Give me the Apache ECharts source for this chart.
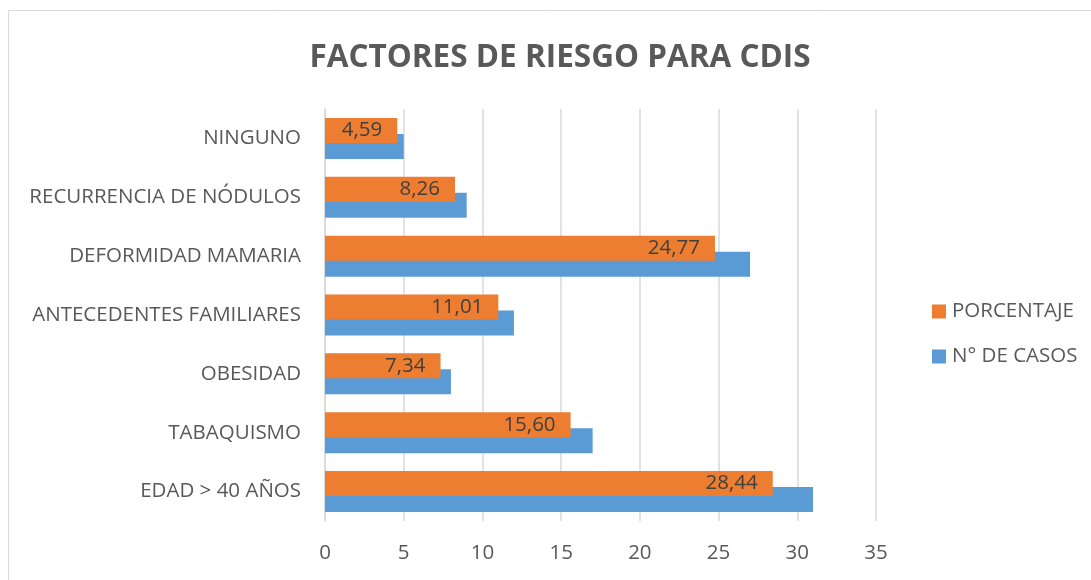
<!DOCTYPE html>
<html>
<head>
<meta charset="utf-8">
<script src="https://cdn.jsdelivr.net/npm/echarts@6/dist/echarts.min.js"></script>
<style>html,body{margin:0;padding:0;background:#fff}#c{width:1091px;height:580px}</style>
</head>
<body>
<div id="c"></div>
<script>
const categories = ['EDAD > 40 AÑOS','TABAQUISMO','OBESIDAD','ANTECEDENTES FAMILIARES','DEFORMIDAD MAMARIA','RECURRENCIA DE NÓDULOS','NINGUNO'];
const casos = [31, 17, 8, 12, 27, 9, 5];
const porcentaje = [28.44, 15.60, 7.34, 11.01, 24.77, 8.26, 4.59];
const xTicks = [0, 5, 10, 15, 20, 25, 30, 35];

const font = 'Open Sans, Noto Sans, sans-serif';
const chart = echarts.init(document.getElementById('c'));
chart.setOption({
  animation: false,
  backgroundColor: '#fff',
  graphic: [{type:'rect', shape:{x:8.5,y:10.5,width:1200,height:700}, style:{fill:'none',stroke:'#d9d9d9',lineWidth:1}, silent:true}],
  title: {
    text: 'FACTORES DE RIESGO PARA CDIS',
    left: 555, top: 37, textAlign: 'center',
    textStyle: {fontFamily: font, fontSize: 31.5, fontWeight: 'bold', color: '#595959'}
  },
  legend: {
    orient: 'vertical', left: 927, top: 296, itemGap: 24,
    itemWidth: 14, itemHeight: 14, icon: 'rect',
    data: ['PORCENTAJE', 'N° DE CASOS'],
    textStyle: {fontFamily: font, fontSize: 20.5, color: '#595959', padding:[0,0,0,1]}
  },
  grid: {left: 325, right: 215, top: 109, bottom: 59, containLabel: false},
  xAxis: {
    type: 'value', min: xTicks[0], max: xTicks[xTicks.length-1], interval: 5,
    axisLine: {show:false}, axisTick: {show:false},
    axisLabel: {fontFamily: font, fontSize: 20.5, color: '#595959', margin: 22},
    splitLine: {lineStyle: {color: '#d9d9d9', width: 1.5}}
  },
  yAxis: {
    type: 'category', data: categories,
    axisLine: {show:true, lineStyle:{color:'#d9d9d9', width:1.5}}, axisTick: {show:false},
    axisLabel: {fontFamily: font, fontSize: 20.5, color: '#595959', margin: 24}
  },
  series: [
    {name: 'PORCENTAJE', type: 'bar', data: porcentaje, barWidth: 25, barGap: '-36%', z: 3,
     itemStyle: {color: '#ED7D31'},
     label: {show: true, position: 'insideRight', distance: 15,
       fontFamily: font, fontSize: 20.5, color: '#404040',
       formatter: p => p.value.toFixed(2).replace('.', ',')}},
    {name: 'N° DE CASOS', type: 'bar', data: casos, barWidth: 25, barGap: '-36%', z: 2,
     itemStyle: {color: '#5B9BD5'}}
  ]
});
</script>
</body>
</html>
